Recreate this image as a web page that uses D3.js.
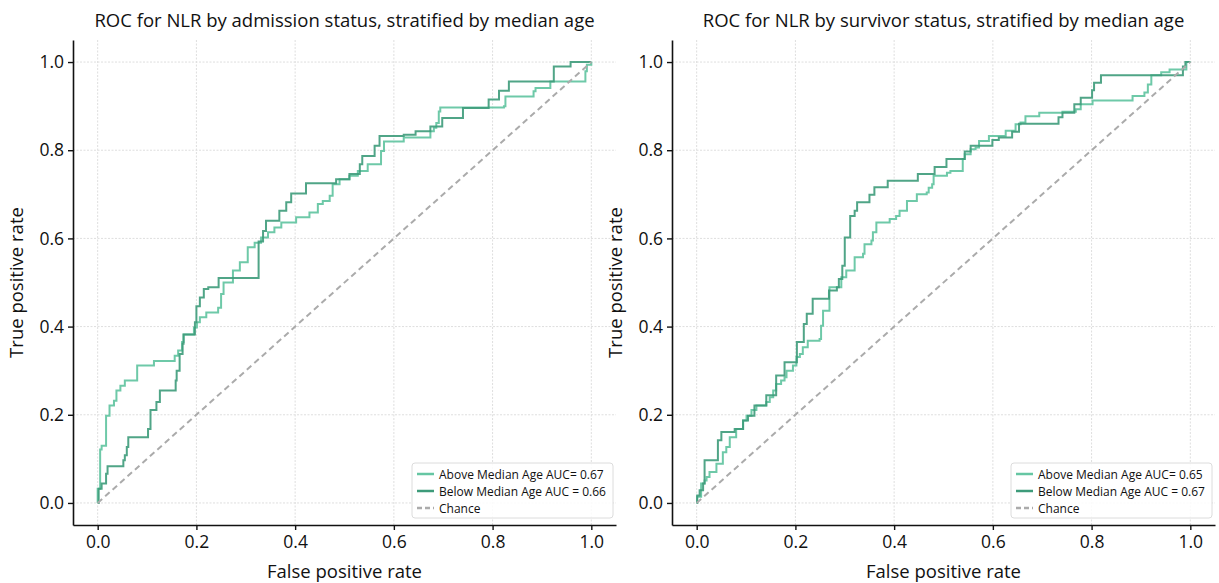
<!DOCTYPE html>
<html>
<head>
<meta charset="utf-8">
<script src="https://cdn.jsdelivr.net/npm/d3@7"></script>
<style>
  body { margin: 0; background: #fff; }
  svg { font-family: "Open Sans", sans-serif; }
</style>
</head>
<body>
<svg id="chart" width="1219" height="583"></svg>
<script>
/* Two ROC panels: NLR by admission / survivor status, split at median age */

const ticks = [0, 0.2, 0.4, 0.6, 0.8, 1.0];

// Left panel: admission status (step points: fpr where tpr jumps, tpr after jump)
const admAboveFpr = [0, 0, 0.005, 0.008, 0.017, 0.024, 0.033, 0.038, 0.046, 0.055, 0.080, 0.114, 0.156, 0.163, 0.171, 0.174, 0.195, 0.201, 0.207, 0.220, 0.244, 0.250, 0.255, 0.274, 0.288, 0.304, 0.318, 0.331, 0.345, 0.358, 0.372, 0.402, 0.429, 0.446, 0.456, 0.470, 0.476, 0.490, 0.510, 0.527, 0.547, 0.574, 0.580, 0.620, 0.674, 0.681, 0.686, 0.691, 0.694, 0.823, 0.826, 0.883, 0.887, 0.917, 0.988, 0.991, 1.0];
const admAboveTpr = [0, 0.032, 0.121, 0.130, 0.198, 0.221, 0.232, 0.255, 0.266, 0.278, 0.312, 0.322, 0.334, 0.346, 0.365, 0.382, 0.398, 0.410, 0.421, 0.432, 0.443, 0.474, 0.500, 0.527, 0.546, 0.580, 0.590, 0.602, 0.614, 0.625, 0.636, 0.648, 0.659, 0.678, 0.685, 0.697, 0.723, 0.734, 0.742, 0.753, 0.768, 0.798, 0.820, 0.829, 0.843, 0.851, 0.862, 0.888, 0.897, 0.900, 0.922, 0.934, 0.941, 0.956, 0.979, 0.994, 1.0];
const admBelowFpr = [0, 0.002, 0.008, 0.017, 0.020, 0.052, 0.055, 0.059, 0.062, 0.102, 0.107, 0.119, 0.126, 0.158, 0.160, 0.166, 0.172, 0.174, 0.197, 0.200, 0.207, 0.215, 0.224, 0.245, 0.326, 0.335, 0.341, 0.368, 0.382, 0.392, 0.422, 0.483, 0.510, 0.531, 0.536, 0.561, 0.571, 0.620, 0.644, 0.674, 0.698, 0.740, 0.792, 0.813, 0.833, 0.924, 0.958, 1.0];
const admBelowTpr = [0, 0.032, 0.044, 0.066, 0.083, 0.097, 0.108, 0.127, 0.149, 0.168, 0.211, 0.229, 0.255, 0.278, 0.300, 0.338, 0.361, 0.382, 0.410, 0.446, 0.466, 0.485, 0.489, 0.510, 0.593, 0.617, 0.640, 0.663, 0.682, 0.702, 0.725, 0.734, 0.746, 0.768, 0.787, 0.810, 0.832, 0.835, 0.843, 0.854, 0.873, 0.896, 0.915, 0.935, 0.956, 0.990, 1.0, 1.0];

// Right panel: survivor status
const survAboveFpr = [0, 0.001, 0.009, 0.016, 0.020, 0.026, 0.040, 0.053, 0.060, 0.067, 0.080, 0.094, 0.101, 0.111, 0.121, 0.141, 0.148, 0.155, 0.161, 0.171, 0.178, 0.182, 0.195, 0.202, 0.209, 0.215, 0.225, 0.249, 0.252, 0.256, 0.269, 0.293, 0.303, 0.320, 0.337, 0.340, 0.354, 0.357, 0.364, 0.391, 0.404, 0.411, 0.426, 0.446, 0.466, 0.470, 0.477, 0.480, 0.507, 0.514, 0.539, 0.543, 0.555, 0.565, 0.572, 0.592, 0.626, 0.646, 0.656, 0.666, 0.694, 0.741, 0.768, 0.778, 0.802, 0.883, 0.907, 0.914, 0.921, 0.941, 0.958, 0.992, 1.0];
const survAboveTpr = [0, 0.014, 0.044, 0.051, 0.059, 0.070, 0.089, 0.115, 0.127, 0.149, 0.168, 0.187, 0.198, 0.211, 0.221, 0.229, 0.240, 0.255, 0.270, 0.278, 0.285, 0.300, 0.312, 0.331, 0.338, 0.353, 0.368, 0.372, 0.402, 0.436, 0.489, 0.512, 0.527, 0.557, 0.565, 0.587, 0.595, 0.614, 0.636, 0.644, 0.651, 0.663, 0.685, 0.700, 0.704, 0.715, 0.723, 0.742, 0.749, 0.753, 0.780, 0.791, 0.802, 0.806, 0.821, 0.832, 0.844, 0.859, 0.863, 0.877, 0.885, 0.887, 0.893, 0.904, 0.913, 0.923, 0.931, 0.949, 0.970, 0.977, 0.983, 1.0, 1.0];
const survBelowFpr = [0, 0.001, 0.006, 0.013, 0.016, 0.043, 0.050, 0.077, 0.094, 0.104, 0.117, 0.141, 0.161, 0.178, 0.203, 0.217, 0.223, 0.235, 0.268, 0.284, 0.288, 0.295, 0.300, 0.311, 0.320, 0.325, 0.350, 0.360, 0.387, 0.448, 0.482, 0.506, 0.543, 0.555, 0.599, 0.612, 0.639, 0.653, 0.733, 0.741, 0.765, 0.778, 0.801, 0.805, 0.819, 0.985, 0.990, 1.0];
const survBelowTpr = [0, 0.017, 0.029, 0.044, 0.097, 0.142, 0.161, 0.168, 0.187, 0.198, 0.221, 0.244, 0.289, 0.319, 0.365, 0.406, 0.429, 0.463, 0.482, 0.489, 0.508, 0.538, 0.602, 0.651, 0.663, 0.682, 0.699, 0.716, 0.731, 0.746, 0.762, 0.780, 0.797, 0.810, 0.823, 0.829, 0.842, 0.860, 0.875, 0.885, 0.904, 0.919, 0.936, 0.953, 0.970, 0.990, 1.0, 1.0];

const titles = [
  'ROC for NLR by admission status, stratified by median age',
  'ROC for NLR by survivor status, stratified by median age'
];
const legendLabels = [
  ['Above Median Age AUC= 0.67', 'Below Median Age AUC = 0.66', 'Chance'],
  ['Above Median Age AUC= 0.65', 'Below Median Age AUC = 0.67', 'Chance']
];

const COLORS = { above: '#66c6a3', below: '#3d9b7a', chance: '#ababab' };

const toPoints = (fpr, tpr) => fpr.map((f, i) => [f, tpr[i]]);

const panels = [
  { left: 73, right: 616, above: toPoints(admAboveFpr, admAboveTpr), below: toPoints(admBelowFpr, admBelowTpr) },
  { left: 672, right: 1215, above: toPoints(survAboveFpr, survAboveTpr), below: toPoints(survBelowFpr, survBelowTpr) }
];

const svg = d3.select('#chart');
const plotTop = 40, plotBottom = 525;

panels.forEach((p, pi) => {
  const x = d3.scaleLinear().domain([-0.05, 1.05]).range([p.left, p.right]);
  const y = d3.scaleLinear().domain([-0.05, 1.05]).range([plotBottom, plotTop]);
  const g = svg.append('g');

  // grid
  g.append('g').selectAll('line').data(ticks).join('line')
    .attr('x1', d => x(d)).attr('x2', d => x(d))
    .attr('y1', plotTop).attr('y2', plotBottom)
    .attr('stroke', '#dedede').attr('stroke-width', 1).attr('stroke-dasharray', '2,1.5');
  g.append('g').selectAll('line').data(ticks).join('line')
    .attr('x1', p.left).attr('x2', p.right)
    .attr('y1', d => y(d)).attr('y2', d => y(d))
    .attr('stroke', '#dedede').attr('stroke-width', 1).attr('stroke-dasharray', '2,1.5');

  // axes
  const xAxis = g.append('g').attr('transform', `translate(0,${plotBottom})`)
    .call(d3.axisBottom(x).tickValues(ticks).tickFormat(d3.format('.1f')).tickSize(5).tickSizeOuter(0).tickPadding(6));
  const yAxis = g.append('g').attr('transform', `translate(${p.left},0)`)
    .call(d3.axisLeft(y).tickValues(ticks).tickFormat(d3.format('.1f')).tickSize(5).tickSizeOuter(0).tickPadding(4));
  [xAxis, yAxis].forEach(a => {
    a.select('.domain').attr('stroke', '#111').attr('stroke-width', 1.6);
    a.selectAll('.tick line').attr('stroke', '#111').attr('stroke-width', 1.4);
    a.selectAll('.tick text').attr('font-size', 17.5).attr('fill', '#111').attr('font-family', '"Open Sans", sans-serif');
  });

  // curves
  const line = d3.line().x(d => x(d[0])).y(d => y(d[1])).curve(d3.curveStepAfter);
  g.append('path').datum(p.above).attr('d', line)
    .attr('fill', 'none').attr('stroke', COLORS.above).attr('stroke-width', 2).attr('stroke-opacity', 0.95);
  g.append('path').datum(p.below).attr('d', line)
    .attr('fill', 'none').attr('stroke', COLORS.below).attr('stroke-width', 2).attr('stroke-opacity', 0.9);
  g.append('line')
    .attr('x1', x(0)).attr('y1', y(0)).attr('x2', x(1)).attr('y2', y(1))
    .attr('stroke', COLORS.chance).attr('stroke-width', 2).attr('stroke-dasharray', '6,4');

  // title and axis labels
  const cx = (p.left + p.right) / 2;
  g.append('text').attr('x', cx).attr('y', 27).attr('text-anchor', 'middle')
    .attr('font-size', 18.5).attr('fill', '#111').text(titles[pi]);
  g.append('text').attr('x', cx).attr('y', 578).attr('text-anchor', 'middle')
    .attr('font-size', 18.5).attr('fill', '#111').text('False positive rate');
  g.append('text').attr('transform', `translate(${p.left - 50},${(plotTop + plotBottom) / 2}) rotate(-90)`)
    .attr('text-anchor', 'middle').attr('font-size', 18.5).attr('fill', '#111').text('True positive rate');

  // legend
  const lw = 201, lh = 55;
  const lx = p.right - 3 - lw, ly = 463;
  const leg = g.append('g').attr('transform', `translate(${lx},${ly})`);
  leg.append('rect').attr('width', lw).attr('height', lh).attr('rx', 3)
    .attr('fill', '#fff').attr('fill-opacity', 0.85).attr('stroke', '#dcdcdc');
  const items = [
    { c: COLORS.above, dash: null },
    { c: COLORS.below, dash: null },
    { c: COLORS.chance, dash: '5,3' }
  ];
  items.forEach((it, i) => {
    const yy = 11 + i * 17;
    leg.append('line').attr('x1', 5).attr('x2', 22).attr('y1', yy).attr('y2', yy)
      .attr('stroke', it.c).attr('stroke-width', 2.5).attr('stroke-dasharray', it.dash);
    leg.append('text').attr('x', 27).attr('y', yy + 4.5).attr('font-size', 12).attr('fill', '#111')
      .text(legendLabels[pi][i]);
  });
});
</script>
</body>
</html>
